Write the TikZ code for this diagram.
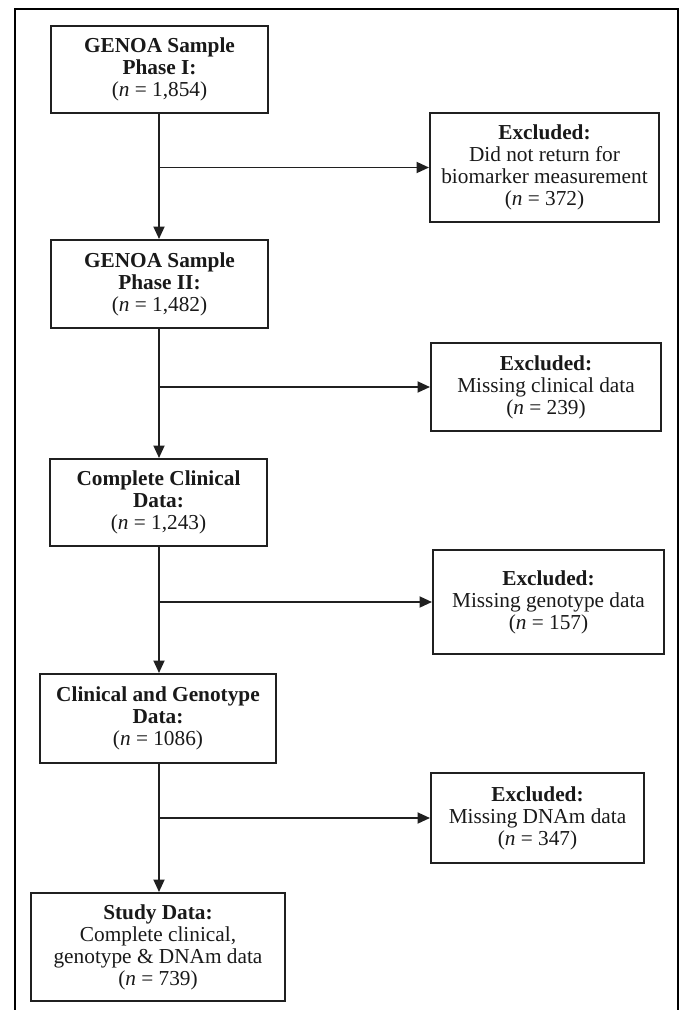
\documentclass[tikz,border=0pt]{standalone}
\usepackage{fontspec}
\setmainfont{Liberation Serif}
\usetikzlibrary{arrows.meta}
\definecolor{boxc}{HTML}{202020}
\definecolor{linec}{HTML}{202020}
\begin{document}
\begin{tikzpicture}[x=1pt,y=-1pt,
  box/.style={draw=boxc, line width=2pt, align=center, inner sep=0pt,
    text=black!90, font=\fontsize{21.3}{22}\selectfont},
  conn/.style={draw=linec, line width=1.9pt},
  arr/.style={conn, -{Triangle[length=12.5pt,width=11pt]}},
]
\useasboundingbox (0,0) rectangle (681,1010);
\draw[line width=2.4pt] (15,1010) -- (15,9) -- (678,9) -- (678,1010);

\node[box, minimum width=217pt, minimum height=87pt] (b1) at (159.5,69.5)
  {\textbf{GENOA Sample}\\\textbf{Phase I:}\\(\textit{n} = 1,854)};
\node[box, minimum width=229pt, minimum height=109pt] (e1) at (544.5,167.5)
  {\textbf{Excluded:}\\Did not return for\\biomarker measurement\\(\textit{n} = 372)};
\node[box, minimum width=217pt, minimum height=88pt] (b2) at (159.5,284)
  {\textbf{GENOA Sample}\\\textbf{Phase II:}\\(\textit{n} = 1,482)};
\node[box, minimum width=230pt, minimum height=88pt] (e2) at (546,387)
  {\textbf{Excluded:}\\Missing clinical data\\(\textit{n} = 239)};
\node[box, minimum width=217pt, minimum height=87pt] (b3) at (158.5,502.5)
  {\textbf{Complete Clinical}\\\textbf{Data:}\\(\textit{n} = 1,243)};
\node[box, minimum width=231pt, minimum height=104pt] (e3) at (548.5,602)
  {\textbf{Excluded:}\\Missing genotype data\\(\textit{n} = 157)};
\node[box, minimum width=236pt, minimum height=89pt] (b4) at (158,718.5)
  {\textbf{Clinical and Genotype}\\\textbf{Data:}\\(\textit{n} = 1086)};
\node[box, minimum width=213pt, minimum height=90pt] (e4) at (537.5,818)
  {\textbf{Excluded:}\\Missing DNAm data\\(\textit{n} = 347)};
\node[box, minimum width=254pt, minimum height=108pt] (b5) at (158,947)
  {\textbf{Study Data:}\\Complete clinical,\\genotype \& DNAm data\\(\textit{n} = 739)};

\coordinate (s1) at (159,113);
\coordinate (s2) at (159,328);
\coordinate (s3) at (159,546);
\coordinate (s4) at (159,763);
\draw[arr] (s1) -- (s1 |- b2.north);
\draw[arr] (s2) -- (s2 |- b3.north);
\draw[arr] (s3) -- (s3 |- b4.north);
\draw[arr] (s4) -- (s4 |- b5.north);
\draw[arr] (s1 |- e1.west) -- (e1.west);
\draw[arr] (s2 |- e2.west) -- (e2.west);
\draw[arr] (s3 |- e3.west) -- (e3.west);
\draw[arr] (s4 |- e4.west) -- (e4.west);
\end{tikzpicture}
\end{document}
